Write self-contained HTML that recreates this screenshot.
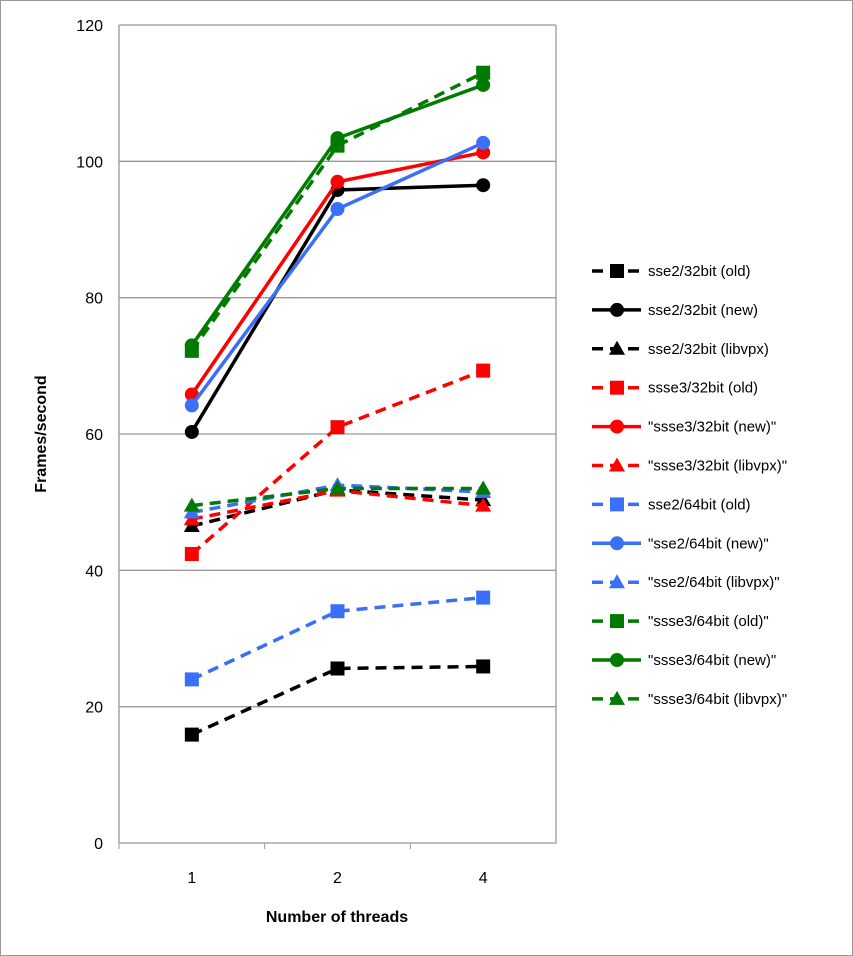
<!DOCTYPE html>
<html><head><meta charset="utf-8"><style>
body{margin:0;background:#fff}
svg{display:block;font-family:"Liberation Sans",sans-serif}
</style></head><body>
<svg id="chart" width="853" height="956">
<rect x="0.5" y="0.5" width="852" height="955" fill="#fff" stroke="#999"/>
<g id="grid"></g><g id="series"></g><g id="legend"></g>
<text x="337" y="922" text-anchor="middle" font-size="16" font-weight="bold">Number of threads</text>
<text transform="translate(46,434) rotate(-90)" text-anchor="middle" font-size="16" font-weight="bold">Frames/second</text>
</svg>
<script>
const categories=["1","2","4"];
const yTicks=[0,20,40,60,80,100,120];
const seriesNames=["sse2/32bit (old)","sse2/32bit (new)","sse2/32bit (libvpx)","ssse3/32bit (old)","\"ssse3/32bit (new)\"","\"ssse3/32bit (libvpx)\"","sse2/64bit (old)","\"sse2/64bit (new)\"","\"sse2/64bit (libvpx)\"","\"ssse3/64bit (old)\"","\"ssse3/64bit (new)\"","\"ssse3/64bit (libvpx)\""];
const s1=[15.9,25.6,25.9];
const s2=[60.3,95.8,96.5];
const s3=[46.5,51.8,50.3];
const s4=[42.4,61.0,69.3];
const s5=[65.8,97.0,101.3];
const s6=[47.5,51.7,49.5];
const s7=[24.0,34.0,36.0];
const s8=[64.2,93.0,102.7];
const s9=[48.5,52.5,51.5];
const s10=[72.2,102.3,113.0];
const s11=[73.0,103.4,111.2];
const s12=[49.5,52.0,52.0];
const seriesValues=[s1,s2,s3,s4,s5,s6,s7,s8,s9,s10,s11,s12];
const colors=["#000","#000","#000","#f00","#f00","#f00","#3a6ff7","#3a6ff7","#3a6ff7","#007a00","#007a00","#007a00"];
const markers=["square","circle","triangle"];
const NS="http://www.w3.org/2000/svg";
const X0=119,X1=556,Y0=843,Y1=25;
const xPos=i=>X0+(X1-X0)*(i+0.5)/categories.length;
const yPos=v=>Y0-(v/120)*(Y0-Y1);
function mk(tag,attrs,parent){const e=document.createElementNS(NS,tag);for(const k in attrs)e.setAttribute(k,attrs[k]);parent.appendChild(e);return e;}
const grid=document.getElementById('grid');
yTicks.forEach(t=>{
  if(t>0){const l=mk('line',{x1:X0,x2:X1,y1:yPos(t),y2:yPos(t),stroke:'#999','stroke-width':1.3},grid);
  
  }
  const tx=mk('text',{x:103,y:yPos(t)+6,'text-anchor':'end','font-size':16},grid);tx.textContent=t;
  
  
});
const ax=mk('path',{d:`M${X0},${Y1}V${Y0}H${X1}V${Y1}`,fill:'none',stroke:'#999','stroke-width':1.3},grid);


categories.forEach((c,i)=>{
  const tk=mk('line',{x1:X0+(X1-X0)*i/3,x2:X0+(X1-X0)*i/3,y1:Y0,y2:Y0+6,stroke:'#999'},grid);
  
  
  const tx=mk('text',{x:xPos(i),y:Y0+40,'text-anchor':'middle','font-size':16},grid);tx.textContent=c;
  
  
});
function marker(type,x,y,color,parent){
  let e;
  if(type==='square')e=mk('rect',{x:x-7,y:y-7,width:14,height:14,fill:color},parent);
  else if(type==='circle')e=mk('circle',{cx:x,cy:y,r:7,fill:color},parent);
  else e=mk('path',{d:`M${x},${y-8}L${x+8},${y+6}L${x-8},${y+6}Z`,fill:color},parent);
  return e;
}
const sg=document.getElementById('series');
seriesValues.forEach((vals,si)=>{
  const g=mk('g',{},sg);
  
  
  const type=markers[si%3];const dashed=type!=='circle';
  const pts=vals.map((v,i)=>xPos(i)+','+yPos(v)).join(' ');
  const pl=mk('polyline',{points:pts,fill:'none',stroke:colors[si],'stroke-width':3.5,'stroke-dasharray':dashed?'11,7':'none'},g);
  
  
  vals.forEach((v,i)=>{const m=marker(type,xPos(i),yPos(v),colors[si],g);
    
    });
});
const lg=document.getElementById('legend');
seriesNames.forEach((n,si)=>{
  const y=271+si*38.9;const type=markers[si%3];
  const g=mk('g',{},lg);
  
  
  mk('line',{x1:592,x2:641,y1:y,y2:y,stroke:colors[si],'stroke-width':3.5,'stroke-dasharray':type!=='circle'?'11,7':'none'},g);
  marker(type,617,y,colors[si],g);
  const t=mk('text',{x:648,y:y+5,'font-size':15},g);t.textContent=n;
});
</script>
</body></html>
